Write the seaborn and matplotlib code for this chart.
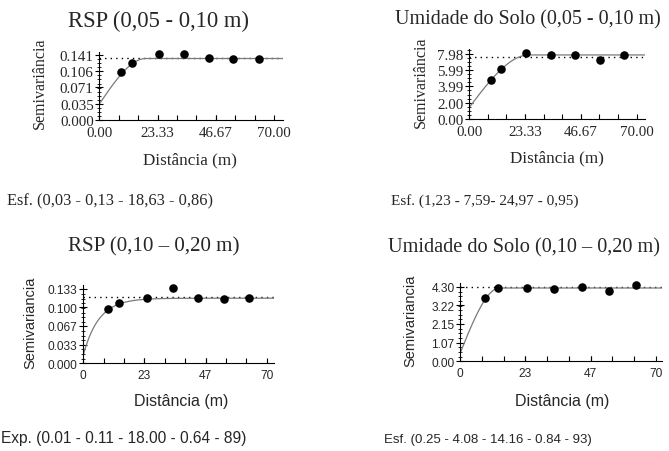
import numpy as np
import matplotlib
matplotlib.use("Agg")
import matplotlib.pyplot as plt
import seaborn as sns
from matplotlib.ticker import FixedLocator, MultipleLocator, AutoMinorLocator

# ── values ────────────────────────────────────────────────────────────────────
lag_rsp_05 = [8.7, 13.2, 24.0, 34.1, 43.9, 53.7, 64.0]
gam_rsp_05 = [0.103, 0.123, 0.1425, 0.1425, 0.1332, 0.131, 0.131]

lag_umi_05 = [9.1, 13.2, 23.7, 34.2, 44.4, 54.6, 64.7]
gam_umi_05 = [4.83, 6.14, 8.10, 7.86, 7.86, 7.28, 7.86]

lag_rsp_10 = [9.5, 13.7, 24.2, 34.4, 43.9, 53.7, 63.4]
gam_rsp_10 = [0.0972, 0.1074, 0.1164, 0.1343, 0.1164, 0.1151, 0.1164]

lag_umi_10 = [8.9, 13.7, 23.8, 33.6, 43.5, 53.3, 62.9]
gam_umi_10 = [3.64, 4.22, 4.22, 4.16, 4.26, 4.06, 4.39]

# fitted models as drawn: (kind, nugget, sill, range)
model_rsp_05 = ("sph", 0.0345, 0.1328, 18.63)
model_umi_05 = ("sph", 1.43, 7.86, 24.97)
model_rsp_10 = ("exp", 0.015, 0.1164, 18.00)
model_umi_10 = ("sph", 0.45, 4.22, 14.16)

# sample variance (dotted line)
var_rsp_05, var_umi_05, var_rsp_10, var_umi_10 = 0.134, 7.58, 0.1192, 4.26

xtick_vals = [0, 23.33, 46.67, 70]
xtick_top = ["0.00", "23.33", "46.67", "70.00"]
xtick_bot = ["0", "23", "47", "70"]

ytick_rsp_05 = ["0.000", "0.035", "0.071", "0.106", "0.141"]
ytick_umi_05 = ["0.00", "2.00", "3.99", "5.99", "7.98"]
ytick_rsp_10 = ["0.000", "0.033", "0.067", "0.100", "0.133"]
ytick_umi_10 = ["0.00", "1.07", "2.15", "3.22", "4.30"]

titles = ["RSP (0,05 - 0,10 m)", "Umidade do Solo (0,05 - 0,10 m)",
          "RSP (0,10 \u2013 0,20 m)", "Umidade do Solo (0,10 \u2013 0,20 m)"]
captions = ["Esf. (0,03 - 0,13 - 18,63 - 0,86)", "Esf. (1,23 - 7,59- 24,97 - 0,95)",
            "Exp. (0.01 - 0.11 - 18.00 - 0.64 - 89)", "Esf. (0.25 - 4.08 - 14.16 - 0.84 - 93)"]

SERIF = "Liberation Serif"
SANS = "Liberation Sans"
W, H = 669, 452


def model_curve(h, model):
    kind, c0, sill, a = model
    if kind == "sph":
        r = np.minimum(h / a, 1.0)
        return c0 + (sill - c0) * (1.5 * r - 0.5 * r ** 3)
    return c0 + (sill - c0) * (1 - np.exp(-3 * h / a))


def px_rect(left, right, bottom, top):
    return [left / W, 1 - bottom / H, (right - left) / W, (bottom - top) / H]


def draw_panel(fig, rect, lag, gam, model, var, xmax, ymax, xlabels, ylabels,
               family, tick_fs, xlab_fs, ylab_fs, ylabel, xlab_pos, ylab_pos):
    ax = fig.add_axes(rect)
    h = np.linspace(0, xmax, 400)
    ax.plot(h, model_curve(h, model), color="#7a7a7a", lw=0.9, zorder=2)
    ax.axhline(var, color="black", lw=1.0, ls=(0, (1, 3)), zorder=1)
    sns.scatterplot(x=lag, y=gam, ax=ax, color="black", s=38,
                    edgecolor="black", linewidth=0, zorder=3, clip_on=False)

    ax.set_xlim(0, xmax)
    ax.set_ylim(0, ymax)
    ax.xaxis.set_major_locator(FixedLocator(xtick_vals))
    ax.xaxis.set_minor_locator(MultipleLocator(70 / 9))
    ax.set_xticklabels(xlabels)
    yvals = [float(v) for v in ylabels]
    ax.yaxis.set_major_locator(FixedLocator(yvals))
    ax.yaxis.set_minor_locator(AutoMinorLocator(4))
    ax.set_yticklabels(ylabels)

    ax.tick_params(which="both", bottom=True, left=True, top=False, right=False,
                   color="black")
    ax.tick_params(axis="x", which="both", direction="in", length=3.5, width=0.8, pad=4)
    ax.tick_params(axis="y", which="major", direction="inout", length=6, width=0.8, pad=1)
    ax.tick_params(axis="y", which="minor", direction="inout", length=3, width=0.6)
    for lab in ax.get_xticklabels() + ax.get_yticklabels():
        lab.set_family(family)
        lab.set_fontsize(tick_fs)

    for side in ["top", "right"]:
        ax.spines[side].set_visible(False)
    for side in ["left", "bottom"]:
        ax.spines[side].set_linewidth(0.8)
        ax.spines[side].set_color("black")

    ax.set_xlabel("Distância (m)", family=family, fontsize=xlab_fs, va="center")
    ax.set_ylabel(ylabel, family=family, fontsize=ylab_fs, va="center")
    ax.xaxis.set_label_coords(*xlab_pos)
    ax.yaxis.set_label_coords(*ylab_pos)
    return ax


sns.set_style("ticks")
fig = plt.figure(figsize=(W / 100, H / 100), dpi=100)

draw_panel(fig, px_rect(99.3, 283, 121, 52.7), lag_rsp_05, gam_rsp_05, model_rsp_05,
           var_rsp_05, 73.6, 0.1475, xtick_top, ytick_rsp_05, SERIF, 10.8, 12.3, 11.5,
           "Semivariância", (0.496, -0.571), (-0.323, 0.556))
draw_panel(fig, px_rect(469.3, 645, 120, 50), lag_umi_05, gam_umi_05, model_umi_05,
           var_umi_05, 73.5, 8.59, xtick_top, ytick_umi_05, SERIF, 10.8, 12.3, 11.5,
           "Semivariância", (0.497, -0.547), (-0.277, 0.533))
draw_panel(fig, px_rect(83.3, 274, 364.3, 286), lag_rsp_10, gam_rsp_10, model_rsp_10,
           var_rsp_10, 72.8, 0.140, xtick_bot, ytick_rsp_10, SANS, 8.6, 11.5, 10.5,
           "Semivariancia", (0.512, -0.469), (-0.278, 0.531))
draw_panel(fig, px_rect(460, 661.7, 362.3, 284.3), lag_umi_10, gam_umi_10, model_umi_10,
           var_umi_10, 72.1, 4.49, xtick_bot, ytick_umi_10, SANS, 8.6, 11.5, 10.5,
           "Semivariancia", (0.508, -0.505), (-0.244, 0.529))

# titles and model captions
title_pos = [(158, 21.7, 16.3), (528.3, 20, 14.4), (154, 246.8, 15.1), (524, 247.7, 14.6)]
for text, (x, y, fs) in zip(titles, title_pos):
    fig.text(x / W, 1 - y / H, text, ha="center", va="center",
             family=SERIF, fontsize=fs)

caption_pos = [(7, 201.7, SERIF, 11.8), (391, 200.8, SERIF, 11.0),
               (1, 439, SANS, 11.2), (384, 440, SANS, 9.5)]
for text, (x, y, fam, fs) in zip(captions, caption_pos):
    fig.text(x / W, 1 - y / H, text, ha="left", va="center", family=fam, fontsize=fs)

fig.savefig("out.png", dpi=100)
